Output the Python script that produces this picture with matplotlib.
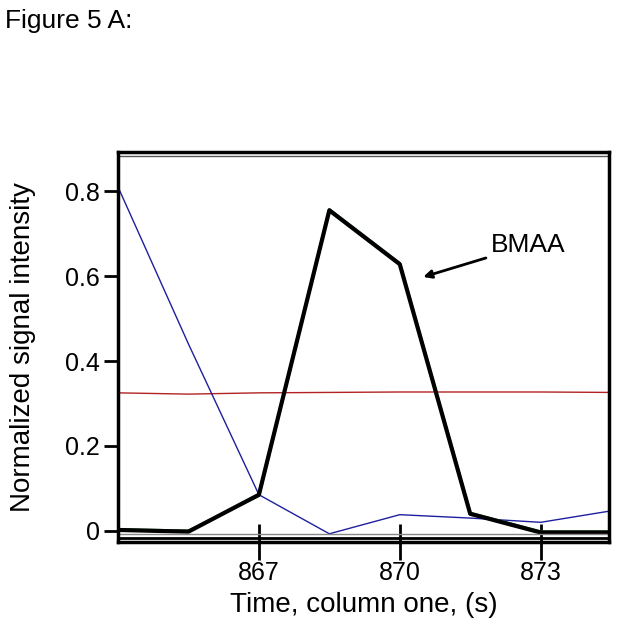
import matplotlib
matplotlib.use("Agg")
import matplotlib.pyplot as plt

plt.rcParams['font.family'] = ['Liberation Sans', 'DejaVu Sans']

time_s = [864.0, 865.5, 867.0, 868.5, 870.0, 871.5, 873.0, 874.5]
bmaa = [0.002, -0.002, 0.085, 0.755, 0.628, 0.04, -0.004, -0.004]
green = [0.003, 0.0, 0.083, 0.757, 0.63, 0.042, -0.002, -0.002]
blue = [0.81, 0.44, 0.085, -0.007, 0.038, 0.03, 0.02, 0.047]
red = [0.325, 0.322, 0.325, 0.326, 0.327, 0.327, 0.327, 0.326]

xticks = [867, 870, 873]
yticks = [0, 0.2, 0.4, 0.6, 0.8]
ytick_labels = ['0', '0.2', '0.4', '0.6', '0.8']

fig = plt.figure(figsize=(6.18, 6.42), dpi=100)
ax = fig.add_axes([0.191, 0.156, 0.794, 0.607])

ax.plot(time_s, red, color='#b22222', lw=1.0)
ax.plot(time_s, blue, color='#1f1fa0', lw=1.0)
ax.plot(time_s, green, color='#2e7d32', lw=2.0)
ax.plot(time_s, bmaa, color='black', lw=3.0)
ax.axhline(-0.007, color='#888888', lw=1.0)

ax.set_xlim(864.0, 874.45)
ax.set_ylim(-0.026, 0.892)
ax.set_xticks(xticks)
ax.set_xticklabels([str(t) for t in xticks])
ax.set_yticks(yticks)
ax.set_yticklabels(ytick_labels)
ax.tick_params(axis='x', direction='inout', length=26, width=2, labelsize=18, pad=1)
ax.tick_params(axis='y', direction='out', length=10, width=2, labelsize=18, pad=3)

for s in ax.spines.values():
    s.set_linewidth(2.5)
# double lines at top and bottom
ax.plot([0, 1], [0.99, 0.99], transform=ax.transAxes, color='#555555', lw=1.0, clip_on=False)
ax.plot([0, 1], [0.011, 0.011], transform=ax.transAxes, color='black', lw=2.0, clip_on=False)

ax.set_xlabel('Time, column one, (s)', fontsize=20, labelpad=5)
ax.set_ylabel('Normalized signal intensity', fontsize=20, labelpad=21)

ax.annotate('BMAA', xy=(870.5, 0.598), xytext=(871.95, 0.645), fontsize=19,
            va='bottom',
            arrowprops=dict(arrowstyle='-|>', color='black', lw=2, mutation_scale=12,
                            shrinkA=2, shrinkB=0))

fig.text(0.008, 0.968, 'Figure 5 A:', fontsize=19, ha='left', va='center')

fig.savefig('out.png', dpi=100)
